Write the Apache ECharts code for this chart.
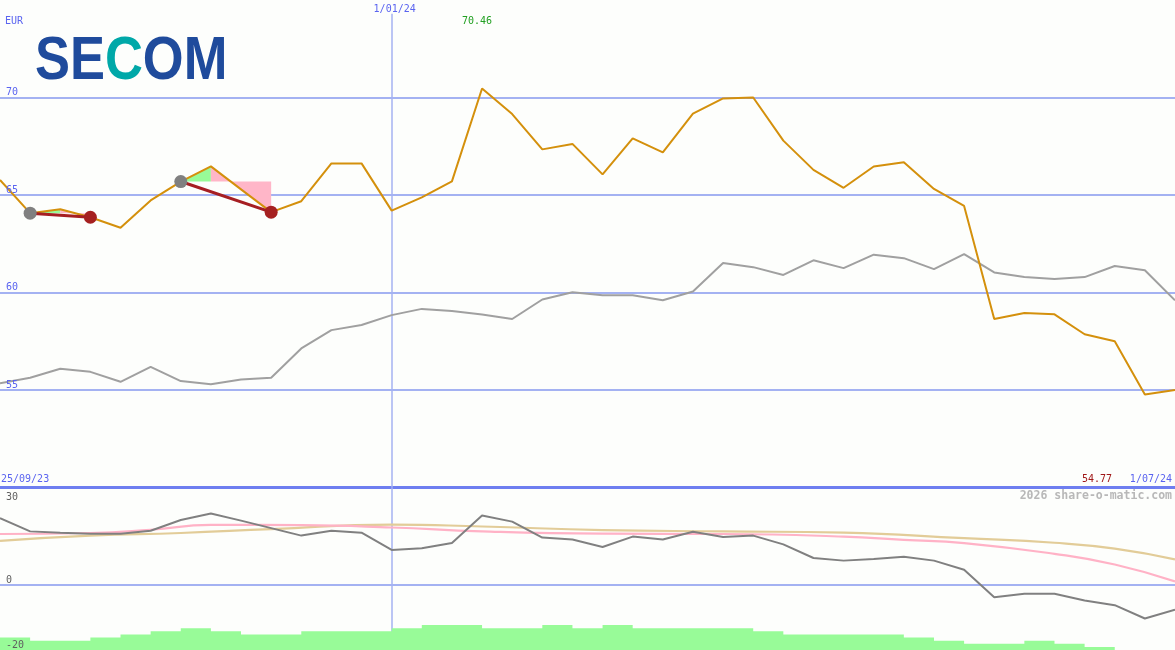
<!DOCTYPE html>
<html><head><meta charset="utf-8">
<script src="https://cdn.jsdelivr.net/npm/echarts@6/dist/echarts.min.js"></script>
<style>html,body{margin:0;padding:0;background:#fdfefc}#c{width:1175px;height:650px}</style>
</head><body><div id="c"></div>
<script>
// ---- data (weekly points, index 0..39) ----
const price = [65.77, 64.07, 64.27, 63.86, 63.32, 64.72, 65.69, 66.47, 65.29, 64.12, 64.68, 66.62, 66.62, 64.20, 64.88, 65.70, 70.46, 69.15, 67.34, 67.62, 66.06, 67.90, 67.19, 69.17, 69.95, 70.00, 67.79, 66.29, 65.37, 66.46, 66.68, 65.31, 64.44, 58.64, 58.95, 58.88, 57.86, 57.50, 54.77, 55.00];
const benchmark = [55.34, 55.63, 56.09, 55.93, 55.42, 56.19, 55.46, 55.30, 55.54, 55.63, 57.13, 58.07, 58.33, 58.84, 59.16, 59.05, 58.87, 58.64, 59.64, 60.01, 59.86, 59.86, 59.60, 60.05, 61.51, 61.30, 60.90, 61.65, 61.25, 61.94, 61.76, 61.20, 61.97, 61.03, 60.79, 60.69, 60.79, 61.36, 61.14, 59.60];
const momentum = [20.6, 16.5, 16.1, 15.8, 15.8, 16.7, 20.0, 22.0, 19.8, 17.5, 15.2, 16.7, 16.1, 10.8, 11.3, 12.9, 21.4, 19.5, 14.6, 14.0, 11.7, 14.9, 14.0, 16.4, 14.8, 15.2, 12.5, 8.3, 7.5, 8.0, 8.7, 7.5, 4.7, -3.8, -2.7, -2.7, -4.8, -6.2, -10.3, -7.6];
const pinkAvg = [[0,15.7],[3,16.0],[5,17.0],[7,18.5],[10,18.4],[13,17.7],[16,16.5],[20,15.8],[24,15.7],[28,14.9],[30,13.9],[32,12.9],[35,9.6],[37,6.3],[39,1.1]];
const tanAvg = [[0,13.6],[3,15.2],[6,16.0],[9,17.2],[13,18.6],[16,18.0],[20,16.9],[24,16.5],[28,16.1],[32,14.4],[35,13.0],[37,11.2],[39,7.9]];
const volumeLevels = [4,3,3,4,5,6,7,6,5,5,6,6,6,7,8,8,7,7,8,7,8,7,7,7,7,6,5,5,5,5,4,3,2,2,3,2,1,0,0];
const trades = [[1,3],[6,9]];
const dateLabels = {start:'25/09/23', mid:'1/01/24', end:'1/07/24'};
const midIndex = 13;
const mainTicks = [55,60,65,70];
const lowerTicks = [30,0,-20];
const highLabel = '70.46';
const lowLabel = '54.77';

const MONO = 'DejaVu Sans Mono';
const BLUE_TXT = '#5a64f0';
const GRID_BLUE = '#a4b2f2';

const chart = echarts.init(document.getElementById('c'), null, {renderer:'canvas'});

const volData = volumeLevels.map((v,i)=>[i,v]);
volData.push([volumeLevels.length, volumeLevels[volumeLevels.length-1]]);

function fillItem(params, api){
  const t = trades[params.dataIndex];
  const s = t[0], e = t[1];
  let peak = s;
  for (let i=s;i<=e;i++) if (price[i] > price[peak]) peak = i;
  const base = price[s];
  const green = [api.coord([s, base])];
  for (let i=s;i<=peak;i++) green.push(api.coord([i, price[i]]));
  green.push(api.coord([peak, base]));
  const pink = [api.coord([peak, base])];
  for (let i=peak;i<=e;i++) pink.push(api.coord([i, price[i]]));
  pink.push(api.coord([e, base]));
  return {type:'group', children:[
    {type:'polygon', shape:{points:green}, style:{fill:'#98fb98'}},
    {type:'polygon', shape:{points:pink}, style:{fill:'#ffb6c8'}}
  ]};
}

const tradeLines = trades.map(t=>({
  type:'line', xAxisIndex:0, yAxisIndex:0, z:4, symbol:'none', silent:true,
  data:[[t[0], price[t[0]]],[t[1], price[t[1]]]],
  lineStyle:{color:'#a61e22', width:3}
}));

const option = {
  animation:false,
  backgroundColor:'#fdfefc',
  grid:[
    {left:0, right:0, top:0, height:487.5},
    {left:0, right:0, top:487.5, bottom:0}
  ],
  xAxis:[
    {type:'value', gridIndex:0, min:0, max:39, show:false},
    {type:'value', gridIndex:1, min:0, max:39, show:false}
  ],
  yAxis:[
    {type:'value', gridIndex:0, min:50, max:75, interval:5, z:10,
      axisLine:{show:false}, axisTick:{show:false}, splitLine:{show:false},
      axisLabel:{inside:true, margin:6, color:BLUE_TXT, fontSize:10, fontFamily:MONO,
        verticalAlign:'bottom', formatter:v=> mainTicks.includes(v) ? String(v) : ''}},
    {type:'value', gridIndex:1, min:-20, max:30, interval:10, z:10,
      axisLine:{show:false}, axisTick:{show:false}, splitLine:{show:false},
      axisLabel:{inside:true, margin:6, color:'#606060', fontSize:10, fontFamily:MONO,
        verticalAlign:'bottom', verticalAlignMaxLabel:'top',
        formatter:v=> !lowerTicks.includes(v) ? '' : (v === lowerTicks[0] ? '{t|'+v+'}' : String(v)),
        rich:{t:{padding:[5,0,0,0], color:'#606060', fontSize:10, fontFamily:MONO}}}},
    {type:'value', gridIndex:1, min:0, max:52, show:false}
  ],
  series:[
    {type:'custom', xAxisIndex:0, yAxisIndex:0, z:1, silent:true,
      renderItem:fillItem,
      data:trades.map(t=>[t[0], price[t[0]], t[1], price[t[1]]]),
      encode:{x:[0,2], y:[1,3]}},
    {type:'line', xAxisIndex:0, yAxisIndex:0, z:2, symbol:'none', silent:true,
      data:benchmark.map((v,i)=>[i,v]),
      lineStyle:{color:'#a0a0a0', width:2},
      markLine:{silent:true, symbol:'none', label:{show:false}, z:0,
        data:[
          ...mainTicks.map(v=>({yAxis:v, lineStyle:{color:GRID_BLUE, width:2, type:'solid'}})),
          {yAxis:50, lineStyle:{color:'#6e7ef0', width:3, type:'solid'}},
          [{coord:[midIndex, 74.3], lineStyle:{color:GRID_BLUE, width:1.5, type:'solid'}},{coord:[midIndex, 50]}]
        ]}},
    {type:'line', xAxisIndex:0, yAxisIndex:0, z:3, symbol:'none', silent:true,
      data:price.map((v,i)=>[i,v]),
      lineStyle:{color:'#d4900c', width:2}},
    ...tradeLines,
    {type:'scatter', xAxisIndex:0, yAxisIndex:0, z:5, symbolSize:13, silent:true,
      data:trades.map(t=>[t[0], price[t[0]]]), itemStyle:{color:'#808080', opacity:1}},
    {type:'scatter', xAxisIndex:0, yAxisIndex:0, z:5, symbolSize:13, silent:true,
      data:trades.map(t=>[t[1], price[t[1]]]), itemStyle:{color:'#a52020', opacity:1}},
    // lower panel
    {type:'line', xAxisIndex:1, yAxisIndex:1, z:2, symbol:'none', silent:true, smooth:true,
      data:tanAvg, lineStyle:{color:'#e2cc98', width:2.2}},
    {type:'line', xAxisIndex:1, yAxisIndex:1, z:2, symbol:'none', silent:true, smooth:true,
      data:pinkAvg, lineStyle:{color:'#ffb2c6', width:2.2}},
    {type:'line', xAxisIndex:1, yAxisIndex:1, z:3, symbol:'none', silent:true,
      data:momentum.map((v,i)=>[i,v]), lineStyle:{color:'#808080', width:2},
      markLine:{silent:true, symbol:'none', label:{show:false}, z:0,
        data:[
          {yAxis:0, lineStyle:{color:GRID_BLUE, width:2, type:'solid'}},
          {xAxis:midIndex, lineStyle:{color:GRID_BLUE, width:1.5, type:'solid'}}
        ]}},
    {type:'line', xAxisIndex:1, yAxisIndex:2, z:4, symbol:'none', silent:true, step:'end',
      data:volData, lineStyle:{width:0, color:'#98fb98'},
      areaStyle:{color:'#98fb98', opacity:1}}
  ]
};
chart.setOption(option);

const midX = chart.convertToPixel({xAxisIndex:0}, midIndex);
let hiIdx = 0; price.forEach((v,i)=>{ if (v > price[hiIdx]) hiIdx = i; });
const hiX = chart.convertToPixel({xAxisIndex:0}, hiIdx);
const txt = (text, x, y, color, align, extra) => Object.assign({type:'text', x:x, y:y, z:10, silent:true,
  style:{text:text, fill:color, font:'10px "'+MONO+'"', align:align||'left', verticalAlign:'middle'}}, extra||{});

chart.setOption({graphic:[
  txt('EUR', 5, 21.5, BLUE_TXT),
  txt(dateLabels.mid, midX+3, 9, BLUE_TXT, 'center'),
  txt(highLabel, hiX-5, 21, '#22a022', 'center'),
  txt(dateLabels.start, 1, 479, BLUE_TXT),
  txt(lowLabel, 1112, 479, '#a01818', 'right'),
  txt(dateLabels.end, 1172, 479, BLUE_TXT, 'right'),
  {type:'text', x:1172, y:496, z:10, silent:true,
    style:{text:'2026 share-o-matic.com', fill:'#b8b8b8', font:'bold 11.5px "'+MONO+'"', align:'right', verticalAlign:'middle'}},
  {type:'text', x:35, y:62, z:10, silent:true, scaleX:0.86, scaleY:1,
    style:{text:'{a|SE}{b|C}{a|OM}', align:'left', verticalAlign:'middle',
      rich:{
        a:{fill:'#1f4b9c', fontSize:61, fontWeight:'bold', fontFamily:'Liberation Sans'},
        b:{fill:'#00a8a8', fontSize:61, fontWeight:'bold', fontFamily:'Liberation Sans'}
      }}}
]});
</script>
</body></html>
